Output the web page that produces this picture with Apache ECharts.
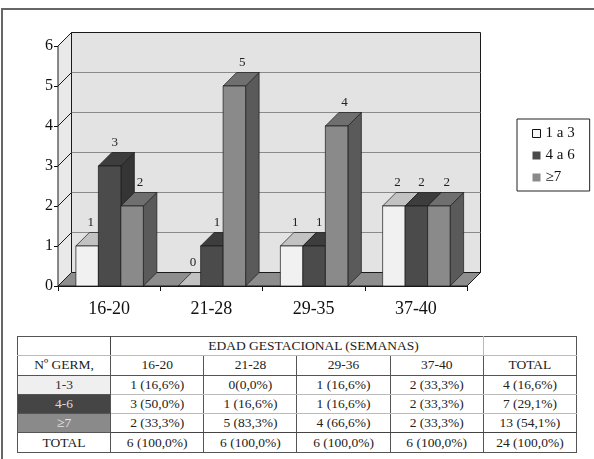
<!DOCTYPE html>
<html><head><meta charset="utf-8">
<script src="https://cdn.jsdelivr.net/npm/echarts@6/dist/echarts.min.js"></script>
<style>
html,body{margin:0;padding:0;background:#fff;width:594px;height:459px;overflow:hidden;}
#frame{position:absolute;left:1px;top:8px;width:593px;height:451px;border-top:2px solid #666;border-left:2px solid #666;box-sizing:border-box;}
#chart{position:absolute;left:0;top:0;width:594px;height:459px;}
#tbl{position:absolute;left:17px;top:336px;width:560px;border-collapse:collapse;table-layout:fixed;font-family:'Liberation Serif',serif;font-size:13.5px;color:#222;border:1px solid #222;z-index:5;background:#fff;}
#tbl td{height:18.3px;padding:0;text-align:center;border:1px solid #555;line-height:18px;white-space:nowrap;overflow:hidden;}
#tbl tr.h1 td{border-bottom:1px solid #bbb;}
#tbl tr.d td.v{border-top-color:#bbb;border-bottom-color:#bbb;}
#tbl tr.first td.v{border-top-color:#444;}
#tbl tr.last td.v{border-bottom-color:#444;}
</style>
</head><body>
<div id="frame"></div>
<div id="chart"></div>
<table id="tbl"></table>
<script>
const categories = ['16-20', '21-28', '29-35', '37-40'];
const seriesNames = ['1 a 3', '4 a 6', '≥7'];
const s1 = [1, 0, 1, 2];
const s2 = [3, 1, 1, 2];
const s3 = [2, 5, 4, 2];
const yTicks = [0, 1, 2, 3, 4, 5, 6];

const tableTitle = 'EDAD GESTACIONAL (SEMANAS)';
const rowHeader = 'Nº GERM,';
const tableColumns = ['16-20', '21-28', '29-36', '37-40', 'TOTAL'];
const rowLabels = ['1-3', '4-6', '≥7', 'TOTAL'];
const row13 = ['1 (16,6%)', '0(0,0%)', '1 (16,6%)', '2 (33,3%)', '4 (16,6%)'];
const row46 = ['3 (50,0%)', '1 (16,6%)', '1 (16,6%)', '2 (33,3%)', '7 (29,1%)'];
const row7 = ['2 (33,3%)', '5 (83,3%)', '4 (66,6%)', '2 (33,3%)', '13 (54,1%)'];
const rowTotal = ['6 (100,0%)', '6 (100,0%)', '6 (100,0%)', '6 (100,0%)', '24 (100,0%)'];

const DX = 13.5, DY = -13.5;
const faces = [
  {front: '#f1f1f1', top: '#c2c2c2', side: '#a8a8a8'},
  {front: '#4b4b4b', top: '#3d3d3d', side: '#353535'},
  {front: '#8a8a8a', top: '#6f6f6f', side: '#5a5a5a'}
];
const labelShift = [3.5, 5, 8];
const serif = '"Liberation Serif", "Times New Roman", serif';

function barGeom(si, api) {
  const ci = api.value(0), v = api.value(1);
  const base = api.coord([ci, 0]);
  const top = api.coord([ci, v]);
  const band = api.size([1, 0])[0];
  const bw = band * 0.22;
  const cx = base[0] + (si - 1) * bw + 0.5;
  return {v: v, cx: cx, x0: cx - bw / 2, x1: cx + bw / 2, bw: bw, yb: base[1], yt: top[1]};
}

function barRenderer(si) {
  const f = faces[si];
  return function (params, api) {
    const g = barGeom(si, api);
    const x0 = g.x0, x1 = g.x1, yb = g.yb, yt = g.yt;
    const st = {stroke: '#1a1a1a', lineWidth: 0.7};
    return {
      type: 'group',
      children: [
        {type: 'polygon', shape: {points: [[x1, yt], [x1 + DX, yt + DY], [x1 + DX, yb + DY], [x1, yb]]}, style: Object.assign({fill: f.side}, st)},
        {type: 'polygon', shape: {points: [[x0, yt], [x1, yt], [x1 + DX, yt + DY], [x0 + DX, yt + DY]]}, style: Object.assign({fill: f.top}, st)},
        {type: 'rect', shape: {x: x0, y: yt, width: g.bw, height: yb - yt}, style: Object.assign({fill: f.front}, st)}
      ]
    };
  };
}

function labelRenderer(si) {
  return function (params, api) {
    const g = barGeom(si, api);
    return {type: 'text', style: {text: String(g.v), x: g.cx + labelShift[si], y: g.yt + DY - 10, align: 'center', verticalAlign: 'middle', fontSize: 13, fontFamily: serif, fill: '#222'}};
  };
}

function wallRenderer(params, api) {
  const cs = params.coordSys;
  const x0 = cs.x, x1 = cs.x + cs.width, yT = cs.y, yB = cs.y + cs.height;
  const st = {stroke: '#1a1a1a', lineWidth: 1};
  const children = [
    {type: 'rect', shape: {x: x0 + DX, y: yT + DY, width: cs.width, height: cs.height}, style: Object.assign({fill: '#e3e3e3'}, st)},
    {type: 'polygon', shape: {points: [[x0, yB], [x0, yT], [x0 + DX, yT + DY], [x0 + DX, yB + DY]]}, style: Object.assign({fill: '#e9e9e9'}, st)}
  ];
  yTicks.slice(1, -1).forEach(function (t) {
    const y = api.coord([0, t])[1];
    children.push({type: 'line', shape: {x1: x0 + DX, y1: y + DY, x2: x1 + DX, y2: y + DY}, style: {stroke: '#8a8a8a', lineWidth: 1}});
    children.push({type: 'line', shape: {x1: x0, y1: y, x2: x0 + DX, y2: y + DY}, style: {stroke: '#1a1a1a', lineWidth: 1}});
  });
  children.push({type: 'polygon', shape: {points: [[x0, yB], [x1, yB], [x1 + DX, yB + DY], [x0 + DX, yB + DY]]}, style: Object.assign({fill: '#8d8d8d'}, st)});
  return {type: 'group', children: children};
}

const chart = echarts.init(document.getElementById('chart'));
const seriesData = [s1, s2, s3];
const legendColors = ['#f7f7f7', '#4b4b4b', '#8a8a8a'];
function toData(arr) { return arr.map(function (v, i) { return [i, v]; }); }

chart.setOption({
  animation: false,
  backgroundColor: 'transparent',
  grid: {left: 58, right: 127, top: 46, bottom: 173},
  xAxis: {
    type: 'category', data: categories,
    axisLine: {lineStyle: {color: '#111', width: 1}},
    axisTick: {show: true, length: 5, lineStyle: {color: '#111'}},
    axisLabel: {fontSize: 18, fontFamily: serif, color: '#111', margin: 14},
    splitLine: {show: false}
  },
  yAxis: {
    type: 'value', min: 0, max: 6, interval: 1,
    axisLine: {show: true, lineStyle: {color: '#111', width: 1}},
    axisTick: {show: true, length: 4, lineStyle: {color: '#111'}},
    axisLabel: {fontSize: 16, fontFamily: serif, color: '#111', margin: 5},
    splitLine: {show: false}
  },
  legend: {
    data: seriesNames.map(function (n, i) {
      return {name: n, itemStyle: i === 0 ? {color: legendColors[i], borderColor: '#111', borderWidth: 1} : {color: legendColors[i], borderWidth: 0}};
    }),
    orient: 'vertical', left: 517, top: 119, padding: [7, 15, 6, 15],
    itemWidth: 8, itemHeight: 8, itemGap: 7, icon: 'rect',
    borderColor: '#222', borderWidth: 1, selectedMode: false,
    textStyle: {fontFamily: serif, fontSize: 15, lineHeight: 14, color: '#111'}
  },
  series: [
    {type: 'custom', name: 'walls', silent: true, data: [[0, 0]], renderItem: wallRenderer, z: 1}
  ].concat(seriesData.map(function (arr, si) {
    return {
      type: 'custom', name: seriesNames[si], z: 2,
      itemStyle: {color: legendColors[si]},
      encode: {x: 0, y: 1},
      data: toData(arr),
      renderItem: barRenderer(si)
    };
  })).concat(seriesData.map(function (arr, si) {
    return {
      type: 'custom', name: 'label-' + si, z: 3, silent: true,
      encode: {x: 0, y: 1},
      data: toData(arr),
      renderItem: labelRenderer(si)
    };
  }))
});

// table
const labelStyles = [
  'background:#efefef;color:#333;',
  'background:#454545;color:#ddd;',
  'background:#8a8a8a;color:#e6e6e6;',
  ''
];
const rows = [row13, row46, row7, rowTotal];
let html = '<colgroup>' + '<col style="width:93px">'.repeat(6) + '</colgroup>';
html += '<tr class="h1"><td style="border-right-color:#444"></td><td colspan="4" style="text-align:left;padding-left:97px;border-right-color:#bbb">' + tableTitle + '</td><td style="border-left-color:#bbb"></td></tr>';
html += '<tr><td>' + rowHeader + '</td>' + tableColumns.map(function (c) { return '<td>' + c + '</td>'; }).join('') + '</tr>';
rows.forEach(function (r, i) {
  const cls = i < 3 ? ('d' + (i === 0 ? ' first' : '') + (i === 2 ? ' last' : '')) : '';
  html += '<tr class="' + cls + '"><td style="' + labelStyles[i] + '">' + rowLabels[i] + '</td>' + r.map(function (c) { return '<td class="v">' + c + '</td>'; }).join('') + '</tr>';
});
document.getElementById('tbl').innerHTML = html;
</script>
</body></html>
